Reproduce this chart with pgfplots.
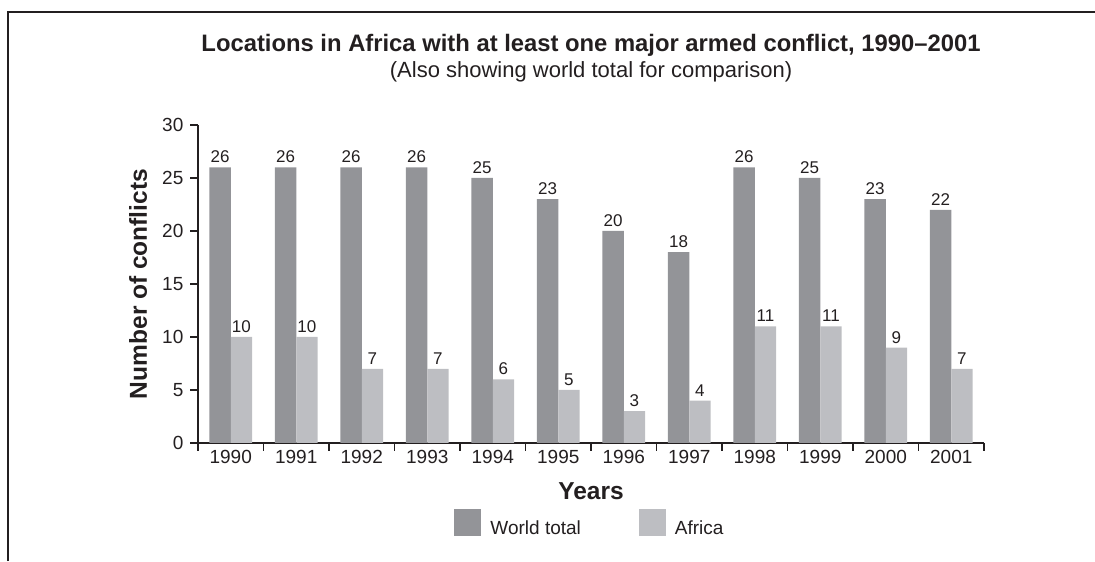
\documentclass[border=0pt]{standalone}
\usepackage{fontspec}
\setmainfont{Liberation Sans}
\usepackage{pgfplots}
\pgfplotsset{compat=1.18}

\definecolor{worldgray}{RGB}{147,148,152}
\definecolor{africagray}{RGB}{189,190,194}
\definecolor{ink}{RGB}{35,31,32}

\begin{document}
\begin{tikzpicture}
\begin{axis}[
    at={(99pt,59pt)}, anchor=south west,
    scale only axis,
    width=393pt, height=159pt,
    ybar=0pt,
    bar width=10.65pt,
    xmin=-0.5, xmax=11.5,
    ymin=0, ymax=30,
    axis x line*=bottom,
    axis y line*=left,
    axis line style={ink, line width=0.65pt},
    tick style={ink, line width=0.65pt},
    tick align=outside,
    major tick length=3.8pt,
    xtick={-0.5,0.5,...,11.5},
    x tick label as interval,
    xticklabels={1990,1991,1992,1993,1994,1995,1996,1997,1998,1999,2000,2001},
    ytick={0,5,...,30},
    tick label style={font=\fontsize{9.5}{11}\selectfont, text=ink},
    x tick label style={yshift=3.8pt},
    /pgf/number format/assume math mode=true,
    xlabel={Years},
    ylabel={Number of conflicts},
    label style={font=\fontsize{12.25}{14}\selectfont\bfseries, text=ink},
    xlabel style={at={(axis description cs:0.5,0)}, anchor=center, yshift=-24pt},
    ylabel style={at={(axis description cs:0,0.5)}, anchor=center, yshift=30pt},
    nodes near coords,
    every node near coord/.append style={font=\fontsize{8.5}{10}\selectfont, text=ink, inner sep=2pt},
    legend columns=-1,
    legend style={at={(axis description cs:0.5,-0.258)}, anchor=center, draw=none,
        font=\fontsize{9.5}{11}\selectfont, text=ink,
        /tikz/every even column/.append style={column sep=27pt}},
    legend image code/.code={
        \fill[#1, draw=none] (0pt,-3.5pt) rectangle (13.5pt,10pt);
        \path (16pt,0pt);},
    clip=false,
]
\addplot[fill=worldgray, draw=none] coordinates {
    (0,26) (1,26) (2,26) (3,26) (4,25) (5,23)
    (6,20) (7,18) (8,26) (9,25) (10,23) (11,22)};
\addplot[fill=africagray, draw=none] coordinates {
    (0,10) (1,10) (2,7) (3,7) (4,6) (5,5)
    (6,3) (7,4) (8,11) (9,11) (10,9) (11,7)};
\legend{World total, Africa}
\node[font=\fontsize{11.9}{13}\selectfont\bfseries, text=ink] at (rel axis cs:0.5,1) [yshift=40pt] {Locations in Africa with at least one major armed conflict, 1990–2001};
\node[font=\fontsize{11}{13}\selectfont, text=ink] at (rel axis cs:0.5,1) [yshift=26.5pt] {(Also showing world total for comparison)};
\end{axis}
\draw[ink, line width=0.75pt] (4pt,0pt) -- (4pt,274.5pt) -- (547.5pt,274.5pt);
\pgfresetboundingbox
\useasboundingbox (0,0) rectangle (547.5pt,280.5pt);
\end{tikzpicture}
\end{document}
